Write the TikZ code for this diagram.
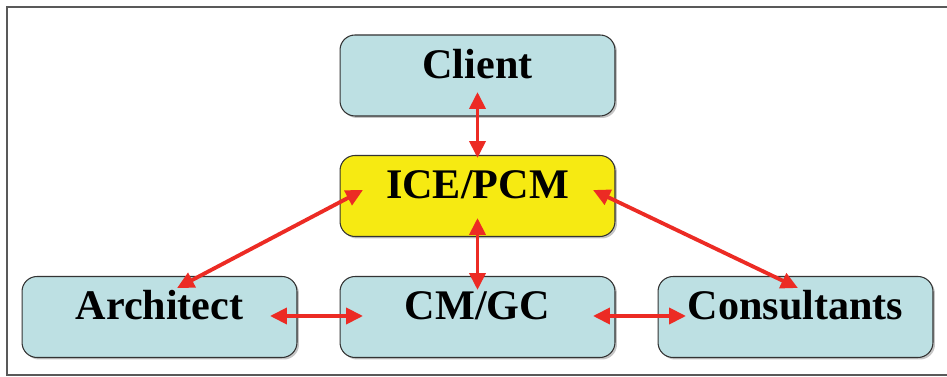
\documentclass[tikz,border=0pt]{standalone}
\usepackage{fontspec}
\setmainfont{Liberation Serif}
\usepackage{tikz}
\usetikzlibrary{arrows.meta, shadows, positioning}

\definecolor{boxblue}{HTML}{BDE0E3}
\definecolor{boxyellow}{HTML}{F6EA12}
\definecolor{linkred}{HTML}{EC2B24}

\begin{document}
\begin{tikzpicture}[x=0.02cm, y=-0.02cm,
    font=\fontsize{24}{28}\selectfont\bfseries,
    party/.style={draw=black!80, line width=0.6pt, fill=boxblue,
        rounded corners=0.3cm, minimum width=5.5cm, minimum height=1.62cm,
        text height=0.56cm, text depth=0.44cm,
        drop shadow={shadow xshift=0.04cm, shadow yshift=-0.04cm, fill=black!45}},
    link/.style={linkred, line width=2.2pt,
        {Triangle[length=0.34cm, width=0.32cm]}-{Triangle[length=0.34cm, width=0.32cm]}}]

    \useasboundingbox (0,0) rectangle (947,377);
    \draw[black!65, line width=0.8pt] (7,7) rectangle (960,375);

    \node[party] at (477.5, 75.5) (client) {Client};
    \node[party, fill=boxyellow] at (477.5, 196) (ice) {ICE/PCM};
    \node[party] at (159.5, 317) (architect) {Architect};
    \node[party] at (477.5, 317) (cmgc) {CM/GC};
    \node[party] at (795.5, 317) (consultants) {Consultants};

    % vertical links
    \draw[link] ([yshift=-0.33cm]client.center) -- ([yshift=0.76cm]ice.center);
    \draw[link] ([yshift=-0.44cm]ice.center) -- ([yshift=0.54cm]cmgc.center);

    % diagonal links
    \draw[link] ([xshift=-2.29cm, yshift=0.12cm]ice.center) -- ([xshift=0.35cm, yshift=0.58cm]architect.center);
    \draw[link] ([xshift=2.31cm, yshift=0.12cm]ice.center) -- ([xshift=0.05cm, yshift=0.58cm]consultants.center);

    % bottom row
    \draw[link] ([xshift=2.21cm, yshift=0.02cm]architect.center) -- ([xshift=-2.29cm, yshift=0.02cm]cmgc.center);
    \draw[link] ([xshift=2.31cm, yshift=0.02cm]cmgc.center) -- ([xshift=-2.19cm, yshift=0.02cm]consultants.center);

\end{tikzpicture}
\end{document}
